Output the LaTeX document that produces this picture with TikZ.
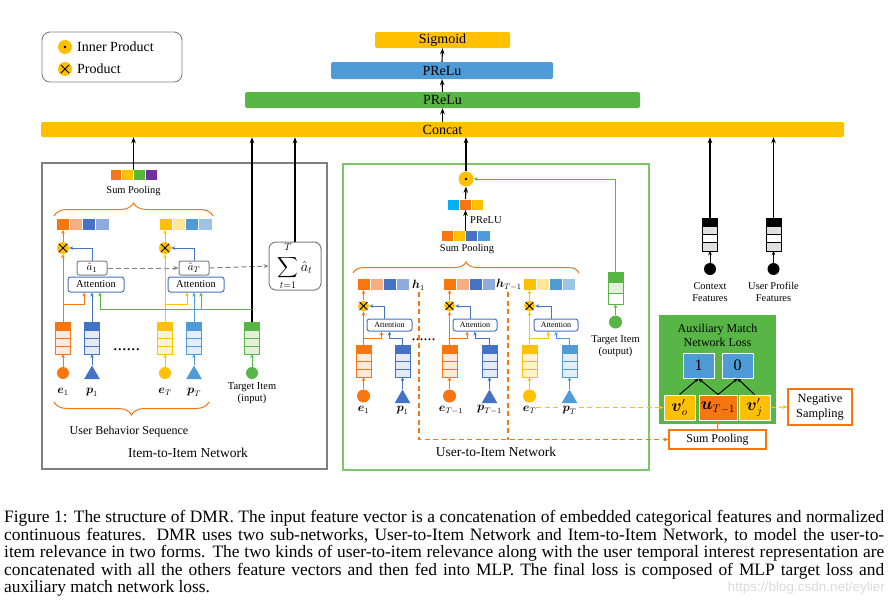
\documentclass[tikz,border=0pt]{standalone}
\usepackage{amsmath}
\usepackage{fontspec}
\setmainfont{Liberation Serif}
\newfontfamily\wmfont{Liberation Sans}
\usetikzlibrary{arrows.meta,calc,shapes.geometric,decorations.pathreplacing}
\definecolor{cOr}{HTML}{F7760F}
\definecolor{cOrL}{HTML}{F8AD82}
\definecolor{cOrV}{HTML}{FDE9DD}
\definecolor{cBl}{HTML}{4472C4}
\definecolor{cBlL}{HTML}{8FAADC}
\definecolor{cBlV}{HTML}{E6EAF5}
\definecolor{cYe}{HTML}{FFC000}
\definecolor{cYeL}{HTML}{FFE699}
\definecolor{cYeV}{HTML}{FFF3D6}
\definecolor{cSk}{HTML}{4E9BD8}
\definecolor{cSkL}{HTML}{9DC3E6}
\definecolor{cSkV}{HTML}{E3EEF8}
\definecolor{cGr}{HTML}{58B646}
\definecolor{cGrV}{HTML}{E2F0D9}
\definecolor{cGrP}{HTML}{7DC46B}
\definecolor{cPu}{HTML}{7030A0}
\definecolor{cCy}{HTML}{00B0F0}
\definecolor{cGy}{HTML}{7F7F7F}
\newcommand\fsz[1]{\fontsize{#1}{#1}\selectfont}
% feature vector: name, cx, ytop, ncells, cellh, border, fills
\newcommand\featvec[7]{%
  \node[draw=#6, line width=0.9pt, outer sep=0, minimum width=15pt, minimum height={(#4)*(#5)*1pt}, inner sep=0, anchor=north] (#1) at (#2,#3) {};
  \foreach \ff [count=\i] in {#7}{
    \filldraw[fill=\ff, draw=#6, line width=0.9pt] ($(#1.north west)+(0,{(\i-1)*#5})$) rectangle ++(15,#5);
  }%
}
% square row: name, cx, cy, cellw, cellh, n, colours
\newcommand\sqrow[7]{%
  \node[inner sep=0, outer sep=0, minimum width={(#6)*(#4)*1pt}, minimum height={(#5)*1pt}] (#1) at (#2,#3) {};
  \foreach \cc [count=\i] in {#7}{
    \filldraw[fill=\cc, draw=white, line width=0.8pt] ($(#1.north west)+({(\i-1)*#4},0)$) rectangle ++(#4,#5);
  }%
}
\tikzset{
  arr/.style={-{Stealth[length=4pt,width=3.6pt]}, line width=1pt},
  arrK/.style={-{Stealth[length=6pt,width=4.5pt]}, line width=1.1pt, draw=black},
  bar/.style={fill=#1, rounded corners=1.5pt, inner sep=0, font=\fsz{14}},
  prod/.style={circle, fill=cYe, minimum size=12pt, inner sep=0,
    path picture={\draw[line width=0.8pt] ($(path picture bounding box.center)+(-4.2,-4.2)$) -- ++(8.4,8.4)
      ($(path picture bounding box.center)+(-4.2,4.2)$) -- ++(8.4,-8.4);}},
  ipst/.style={circle, fill=cYe, inner sep=0},
  dotc/.style={circle, fill=#1, minimum size=12pt, inner sep=0},
  tri/.style={regular polygon, regular polygon sides=3, fill=#1, minimum size=18pt, inner sep=0},
  abox/.style={draw=cGy, rounded corners=2pt, minimum width=30pt, minimum height=14pt, line width=1pt, fill=white, inner sep=0, font=\fsz{11}},
  attbox/.style={draw=cBl, rounded corners=2.5pt, line width=1pt, fill=white, inner sep=0},
  lab/.style={inner sep=0, font=\fsz{#1}},
  mlab/.style={inner sep=0, font=\fsz{12}},
  dashO/.style={draw=cOr, line width=1.1pt, dash pattern=on 5pt off 3.5pt},
  dashY/.style={draw=cYe, line width=1.1pt, dash pattern=on 5pt off 3.5pt},
  bbox/.style={fill=#1, draw=white, line width=1pt, minimum width=31pt, minimum height=25pt, inner sep=0, font=\fsz{16}},
  obox/.style={draw=cOr, line width=1.2pt, fill=white, inner sep=0, align=center},
}
\begin{document}
\begin{tikzpicture}[x=1pt,y=-1pt]
\useasboundingbox (0,0) rectangle (893,605);

% legend
\node[draw=cGy, rounded corners=8pt, line width=0.9pt, minimum width=140pt, minimum height=50pt, inner sep=0] (legend) at (112,57) {};
\node[ipst, minimum size=14pt] (lgip) at (65,47) {};
\fill (lgip.center) circle (1.4);
\node[lab=14, anchor=west] (lgipt) at (77,47) {Inner Product};
\node[prod, minimum size=14pt] (lgpr) at (65,69) {};
\node[lab=14, anchor=west] (lgprt) at (77,69) {Product};

% MLP bars
\node[bar=cYe, minimum width=803pt, minimum height=15pt] (concat) at (442.5,129.5) {Concat};
\node[bar=cGr, minimum width=395pt, minimum height=16pt] (pr1) at (442.5,100) {PReLu};
\node[bar=cSk, minimum width=222pt, minimum height=17pt] (pr2) at (442,70.5) {PReLu};
\node[bar=cYe, minimum width=135pt, minimum height=16pt] (sig) at (442.5,40) {Sigmoid};
\draw[arrK] (concat.north) -- (pr1.south);
\draw[arrK] (pr1.north) -- (pr2.south);
\draw[arrK] (pr2.north) -- (sig.south);

% ================= Item-to-Item Network =================
\node[draw=cGy, line width=1.4pt, minimum width=285pt, minimum height=306pt, inner sep=0] (lpanel) at (184.5,316) {};
\sqrow{ltop}{133.5}{175}{11.75}{11}{4}{cOr,cYe,cGr,cPu}
\node[lab=10.4] (ltopl) at (133.5,191) {Sum Pooling};
\draw[cOr, line width=1pt, decorate, decoration={brace, amplitude=13pt}] (54,216) -- (213,216);
\sqrow{lr1}{82.5}{224}{13.25}{12}{4}{cOr,cOrL,cBl,cBlL}
\sqrow{lrT}{185.5}{224}{13.25}{12}{4}{cYe,cYeL,cSk,cSkL}
\node[prod] (lp1) at (63,248) {};
\node[prod] (lpT) at (165,248) {};
\draw[arr,cOr] (lp1.north) -- (lp1.north |- lr1.south);
\draw[arr,cYe] (lpT.north) -- (lpT.north |- lrT.south);
\node[abox] (la1) at (92,268) {$\hat{a}_1$};
\node[abox] (laT) at (194,268) {$\hat{a}_T$};
\node[attbox, minimum width=56pt, minimum height=15pt, font=\fsz{10.5}] (lat1) at (96,284.5) {Attention};
\node[attbox, minimum width=56pt, minimum height=15pt, font=\fsz{10.5}] (latT) at (196,284.5) {Attention};
\draw[arr,cBl] (la1.north) |- (lp1.east);
\draw[arr,cBl] (laT.north) |- (lpT.east);
\node[draw=cGy, rounded corners=7pt, line width=1pt, minimum width=52pt, minimum height=48pt, inner sep=0, font=\fsz{14}] (sumb) at (295,266) {$\displaystyle\sum_{t=1}^{\raisebox{2.5pt}{$\scriptstyle T$}}\hat{a}_t$};
\draw[draw=cGy, line width=1pt, dash pattern=on 5pt off 3pt, -{Stealth[length=5pt,width=4pt]}] (la1.east) -- (laT.west);
\draw[draw=cGy, line width=1pt, dash pattern=on 5pt off 3pt, -{Stealth[length=5pt,width=4pt]}] (laT.east) -- (sumb.west);
\draw[arrK] (sumb.north) -- (sumb.north |- concat.south);
\draw[arrK] (ltop.north) -- (ltop.north |- concat.south);

\featvec{le1}{63}{322}{4}{8}{cOr}{cOr,cOrV,cOrV,cOrV}
\featvec{lp1v}{92}{322}{4}{8}{cBl}{cBl,cBlV,cBlV,cBlV}
\featvec{leT}{165}{322}{4}{8}{cYe}{cYe,cYeV,cYeV,cYeV}
\featvec{lpTv}{194}{322}{4}{8}{cSk}{cSk,cSkV,cSkV,cSkV}
\featvec{ltg}{252}{322}{4}{8}{cGr}{cGr,cGrV,cGrV,cGrV}
\draw[arrK] (ltg.north) -- (ltg.north |- concat.south);
\draw[arr,cOr] (le1.north) -- (lp1.south);
\draw[arr,cYe] (leT.north) -- (lpT.south);
\coordinate (lb1) at (63,304);
\coordinate (lbT) at (165,304);
\coordinate (lg) at (252,309);
\draw[arr,cOr] (lb1) -| ([xshift=-12]lat1.south);
\draw[arr,cYe] (lbT) -| ([xshift=-9]latT.south);
\draw[arr,cBl] (lp1v.north) -- ([xshift=-4]lat1.south);
\draw[arr,cSk] (lpTv.north) -- ([xshift=-2]latT.south);
\draw[arr,cGr] (lg) -| ([xshift=4]lat1.south);
\draw[arr,cGr] (lg) -| ([xshift=5]latT.south);

\node[dotc=cOr] (le1c) at (63,373) {};
\node[tri=cBl] (lp1t) at (92,374.5) {};
\node[dotc=cYe] (leTc) at (165,373) {};
\node[tri=cSk] (lpTt) at (194,374.5) {};
\node[dotc=cGr] (ltgc) at (252,373) {};
\draw[arr,cOr] (le1c.north) -- (le1.south);
\draw[arr,cBl] (lp1t.north) -- (lp1v.south);
\draw[arr,cYe] (leTc.north) -- (leT.south);
\draw[arr,cSk] (lpTt.north) -- (lpTv.south);
\draw[arr,cGr] (ltgc.north) -- (ltg.south);
\node[lab=18] (ldots) at (126.5,350) {......};
\node[mlab] (le1l) at (63,392) {$\boldsymbol{e}_1$};
\node[mlab] (lp1l) at (92,392) {$\boldsymbol{p}_1$};
\node[mlab] (leTl) at (165,392) {$\boldsymbol{e}_T$};
\node[mlab] (lpTl) at (194,392) {$\boldsymbol{p}_T$};
\node[lab=10.5, align=center, font=\fontsize{10.5}{12}\selectfont] (ltgl) at (252,393) {Target Item\\(input)};
\draw[cOr, line width=1pt, decorate, decoration={brace, amplitude=13pt}] (209,402) -- (54,402);
\node[lab=12] (ubs) at (129,432) {User Behavior Sequence};
\node[lab=13.5] (i2i) at (188,453) {Item-to-Item Network};

% ================= User-to-Item Network =================
\node[draw=cGrP, line width=1.4pt, minimum width=306pt, minimum height=306pt, inner sep=0] (mpanel) at (496,317) {};
\node[ipst, minimum size=15pt] (ip) at (466,179) {};
\fill (ip.center) circle (1.4);
\sqrow{m3}{465.5}{204.5}{12}{11}{3}{cCy,cOr,cYe}
\sqrow{m4}{465.5}{236}{12.25}{11}{4}{cOr,cYe,cBl,cSk}
\draw[arrK] (m4.north) -- (m3.south);
\node[lab=10.5, anchor=west] (prelul) at (470,220) {PReLU};
\draw[arrK] (m3.north) -- (ip.south);
\draw[arrK] (ip.north) -- (ip.north |- concat.south);
\node[lab=10.4] (m4l) at (467,249) {Sum Pooling};
\draw[cOr, line width=1pt, decorate, decoration={brace, amplitude=11pt}] (353,273) -- (579,273);
\sqrow{mh1}{383}{284}{13}{12}{4}{cOr,cOrL,cBl,cBlL}
\sqrow{mh2}{469.5}{284}{13}{12}{4}{cOr,cOrL,cBl,cBlL}
\sqrow{mh3}{549.5}{284}{13}{12}{4}{cYe,cYeL,cSk,cSkL}
\node[mlab, anchor=west] (h1l) at (412,285) {$\boldsymbol{h}_1$};
\node[mlab, anchor=west] (h2l) at (496,285) {$\boldsymbol{h}_{T-1}$};
\node[prod, minimum size=11pt] (mp1) at (363.5,306) {};
\node[prod, minimum size=11pt] (mp2) at (449.5,306) {};
\node[prod, minimum size=11pt] (mp3) at (529.5,306) {};
\draw[arr,cOr] (mp1.north) -- (mp1.north |- mh1.south);
\draw[arr,cOr] (mp2.north) -- (mp2.north |- mh2.south);
\draw[arr,cYe] (mp3.north) -- (mp3.north |- mh3.south);
\node[attbox, minimum width=45pt, minimum height=12pt, font=\fsz{8}] (matt1) at (389.5,325) {Attention};
\node[attbox, minimum width=44pt, minimum height=12pt, font=\fsz{8}] (matt2) at (475,325) {Attention};
\node[attbox, minimum width=44pt, minimum height=12pt, font=\fsz{8}] (matt3) at (556,325) {Attention};
\draw[arr,cBl] ([xshift=-5]matt1.north) |- (mp1.east);
\draw[arr,cBl] ([xshift=-5]matt2.north) |- (mp2.east);
\draw[arr,cBl] ([xshift=-5]matt3.north) |- (mp3.east);
\featvec{me1}{363.5}{345}{4}{8}{cOr}{cOr,cOrV,cOrV,cOrV}
\featvec{mq1}{402.5}{345}{4}{8}{cBl}{cBl,cBlV,cBlV,cBlV}
\featvec{me2}{449.5}{345}{4}{8}{cOr}{cOr,cOrV,cOrV,cOrV}
\featvec{mq2}{489.5}{345}{4}{8}{cBl}{cBl,cBlV,cBlV,cBlV}
\featvec{me3}{529.5}{345}{4}{8}{cYe}{cYe,cYeV,cYeV,cYeV}
\featvec{mq3}{569.5}{345}{4}{8}{cSk}{cSk,cSkV,cSkV,cSkV}
\draw[arr,cOr] (me1.north) -- (mp1.south);
\draw[arr,cOr] (me2.north) -- (mp2.south);
\draw[arr,cYe] (me3.north) -- (mp3.south);
\coordinate (mb1) at (363.5,338);
\coordinate (mb2) at (449.5,338);
\coordinate (mb3) at (529.5,338);
\draw[arr,cOr] (mb1) -| ([xshift=-8]matt1.south);
\draw[arr,cOr] (mb2) -| ([xshift=-8]matt2.south);
\draw[arr,cYe] (mb3) -| ([xshift=-8]matt3.south);
\draw[arr,cBl] (mq1.north) -- ++(0,-7) -| (matt1.south);
\draw[arr,cBl] (mq2.north) -- ++(0,-7) -| (matt2.south);
\draw[arr,cSk] (mq3.north) -- ++(0,-7) -| (matt3.south);
\node[dotc=cOr, minimum size=13pt] (me1c) at (363.5,396) {};
\node[tri=cBl] (mq1t) at (402.5,398.5) {};
\node[dotc=cOr, minimum size=13pt] (me2c) at (449.5,396) {};
\node[tri=cBl] (mq2t) at (489.5,398.5) {};
\node[dotc=cYe, minimum size=13pt] (me3c) at (529.5,396) {};
\node[tri=cSk] (mq3t) at (569.5,398.5) {};
\draw[arr,cOr] (me1c.north) -- (me1.south);
\draw[arr,cBl] (mq1t.north) -- (mq1.south);
\draw[arr,cOr] (me2c.north) -- (me2.south);
\draw[arr,cBl] (mq2t.north) -- (mq2.south);
\draw[arr,cYe] (me3c.north) -- (me3.south);
\draw[arr,cSk] (mq3t.north) -- (mq3.south);
\node[lab=16] (mdots) at (423.5,340) {......};
\node[mlab] (me1l) at (363.5,410) {$\boldsymbol{e}_1$};
\node[mlab] (mq1l) at (402.5,410) {$\boldsymbol{p}_1$};
\node[mlab] (me2l) at (451,410) {$\boldsymbol{e}_{T-1}$};
\node[mlab] (mq2l) at (489.5,410) {$\boldsymbol{p}_{T-1}$};
\node[mlab] (me3l) at (529.5,410) {$\boldsymbol{e}_T$};

\featvec{mto}{615.5}{272}{3}{10.67}{cGr}{cGr,cGrV,white}
\node[dotc=cGr, minimum size=13pt] (mtoc) at (615.5,322) {};
\draw[arr,cGr] (mtoc.north) -- (mto.south);
\draw[arr,cGr] (mto.north) |- (ip.east);
\node[lab=10.5, align=center, font=\fontsize{10.5}{12}\selectfont] (mtol) at (615.5,346) {Target Item\\(output)};
\node[lab=13.5] (u2i) at (496,452) {User-to-Item Network};

% ================= context / profile =================
\featvec{cfv}{710}{218}{4}{8.25}{black}{black,black!12,white,black!12}
\featvec{upv}{773.5}{218}{4}{8.25}{black}{black,black!12,white,black!12}
\node[dotc=black] (cfc) at (710,269) {};
\node[dotc=black] (upc) at (773.5,269) {};
\draw[arr,black] (cfc.north) -- (cfv.south);
\draw[arr,black] (upc.north) -- (upv.south);
\draw[arrK] (cfv.north) -- (cfv.north |- concat.south);
\draw[arrK] (upv.north) -- (upv.north |- concat.south);
\node[lab=10.4, align=center, font=\fontsize{10.4}{12}\selectfont] (cfl) at (710,292) {Context\\Features};
\node[lab=10.4, align=center, font=\fontsize{10.4}{12}\selectfont] (upl) at (773.5,292) {User Profile\\Features};

% ================= auxiliary loss =================
\node[fill=cGr, minimum width=117pt, minimum height=109pt, inner sep=0] (aux) at (717.5,369.5) {};
\node[inner sep=0, align=center, font=\fontsize{12}{14}\selectfont] (auxt) at (717.5,335) {Auxiliary Match\\Network Loss};
\node[bbox=cSk] (b1) at (698.5,365.5) {1};
\node[bbox=cSk] (b0) at (737.5,365.5) {0};
\node[bbox=cYe] (vo) at (679.5,407.5) {$\boldsymbol{v}'_o$};
\node[bbox=cOr, minimum width=38pt] (uu) at (718,407.5) {$\boldsymbol{u}_{T-1}$};
\node[bbox=cYe] (vj) at (754.5,407.5) {$\boldsymbol{v}'_j$};
\draw[arr,black] (vo.north) -- (b1.south);
\draw[arr,black] (uu.north) -- (b1.south);
\draw[arr,black] (uu.north) -- (b0.south);
\draw[arr,black] (vj.north) -- (b0.south);
\node[obox, minimum width=64pt, minimum height=36pt, font=\fontsize{12.4}{15}\selectfont] (ns) at (820,407) {Negative\\Sampling};
\node[obox, minimum width=97pt, minimum height=19pt, font=\fsz{12}] (spb) at (717.5,439.5) {Sum Pooling};
\draw[dashY, -{Stealth[length=5pt,width=4pt]}] (vj.east) -- (ns.west);
\draw[arr,cOr] (spb.north) -- (uu.south);
\draw[dashY, -{Stealth[length=5pt,width=4pt]}] (me3l.east |- vo.west) -- (vo.west);
\node[mlab, fill=white, inner sep=1pt] (mq3l) at (569.5,410) {$\boldsymbol{p}_T$};
\coordinate (hd1) at (419,292);
\coordinate (hd2) at (508,292);
\draw[dashO, -{Stealth[length=5pt,width=4pt]}] (hd1) |- (spb.west);
\draw[dashO] (hd2) -- (hd2 |- spb.west);

% ================= caption =================
\node[anchor=north west, inner sep=0, text width=880pt, align=justify, font=\fontsize{17.4}{17.6}\selectfont] (cap) at (4,510)
{\hyphenpenalty=10000 Figure 1: The structure of DMR. The input feature vector is a concatenation of embedded categorical features and normalized continuous features. DMR uses two sub-networks, User-to-Item Network and Item-to-Item Network, to model the user-to-item relevance in two forms. The two kinds of user-to-item relevance along with the user temporal interest representation are concatenated with all the others feature vectors and then fed into MLP. The final loss is composed of MLP target loss and auxiliary match network loss.};
\node[anchor=east, inner sep=0, text=gray!30, font=\wmfont\fsz{13.5}] (wm) at (885,588) {https://blog.csdn.net/eylier};
\end{tikzpicture}
\end{document}
